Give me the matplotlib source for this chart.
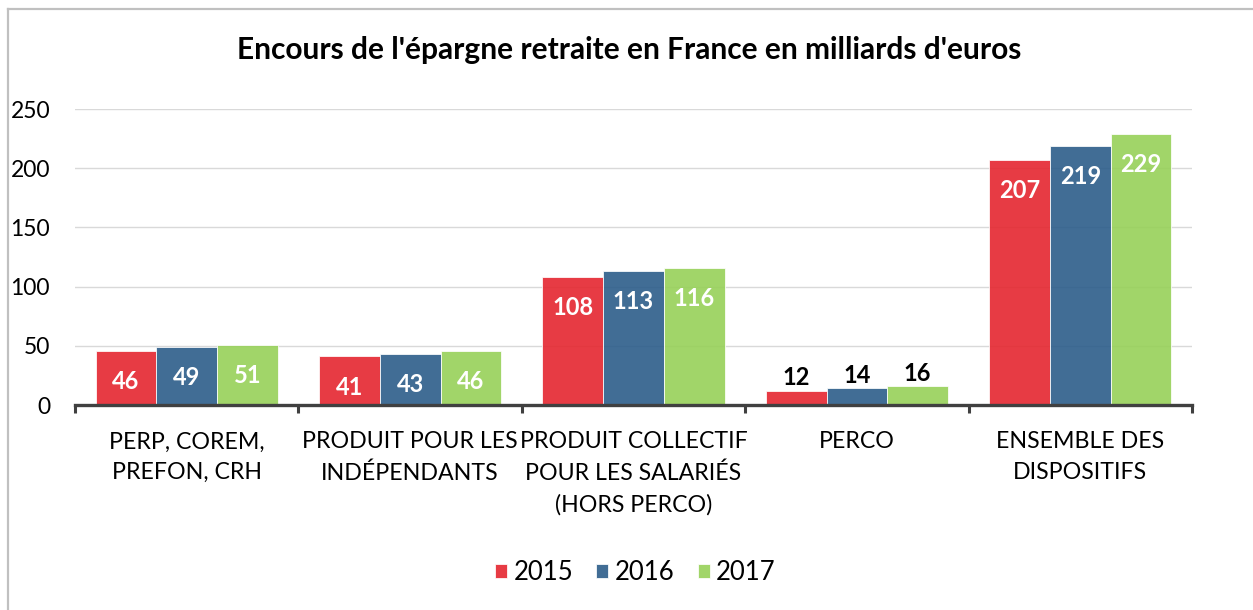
import numpy as np
import matplotlib
matplotlib.use('Agg')
import matplotlib.pyplot as plt
from matplotlib.lines import Line2D

plt.rcParams['font.family'] = ['Lato', 'DejaVu Sans']

categories = ['PERP, COREM,\nPREFON, CRH',
              'PRODUIT POUR LES\nINDÉPENDANTS',
              'PRODUIT COLLECTIF\nPOUR LES SALARIÉS\n(HORS PERCO)',
              'PERCO',
              'ENSEMBLE DES\nDISPOSITIFS']
years = ['2015', '2016', '2017']
v2015 = [46, 41, 108, 12, 207]
v2016 = [49, 43, 113, 14, 219]
v2017 = [51, 46, 116, 16, 229]
yticks = [0, 50, 100, 150, 200, 250]

colors = ['#e5262f', '#2c5d8a', '#97d159']

fig = plt.figure(figsize=(12.53, 6.10), dpi=100)
ax = fig.add_axes([0.0599, 0.336, 0.8914, 0.4853])

x = np.arange(len(categories))
w = 0.272
series = [v2015, v2016, v2017]
for i, (vals, c, yr) in enumerate(zip(series, colors, years)):
    bars = ax.bar(x + (i - 1) * w, vals, w, color=c, alpha=0.9,
                  edgecolor='white', linewidth=0.6, label=yr, zorder=3)
    for b, v in zip(bars, vals):
        cx = b.get_x() + b.get_width() / 2
        if v < 30:
            # small bars: label sits above the bar
            ax.annotate(str(v), (cx, v), xytext=(0, 1), textcoords='offset points',
                        ha='center', va='bottom', fontsize=17, fontweight='bold',
                        color='black', zorder=5)
        else:
            ax.annotate(str(v), (cx, v), xytext=(0, -22), textcoords='offset points',
                        ha='center', va='center', fontsize=17, fontweight='bold',
                        color='white', zorder=5)

ax.set_xlim(-0.5, len(categories) - 0.5)
ax.set_ylim(0, 250)
ax.set_yticks(yticks)
ax.set_yticklabels([str(t) for t in yticks], fontsize=16.5)
ax.tick_params(axis='y', length=0, pad=18)
ax.yaxis.grid(True, color='#d9d9d9', linewidth=1.0, zorder=0)
ax.set_axisbelow(True)

# category boundaries as major ticks, labels at centers as minor ticks
ax.set_xticks(np.arange(len(categories) + 1) - 0.5)
ax.set_xticklabels([])
ax.set_xticks(x, minor=True)
ax.set_xticklabels(categories, minor=True, fontsize=16.7, linespacing=1.58)
ax.tick_params(axis='x', which='major', direction='out', length=6, width=2.2, color='#404040')
ax.tick_params(axis='x', which='minor', length=0, pad=19)

for s in ['top', 'right', 'left']:
    ax.spines[s].set_visible(False)
ax.spines['bottom'].set_color('#404040')
ax.spines['bottom'].set_linewidth(2.4)
ax.spines['bottom'].set_zorder(4)

fig.text(0.502, 0.918, "Encours de l'épargne retraite en France en milliards d'euros",
         ha='center', va='center', fontsize=21.5, fontweight='bold')

fig.legend(loc='center', bbox_to_anchor=(0.507, 0.061), ncol=3, frameon=False,
           fontsize=18.5, handlelength=0.47, handleheight=0.47, handletextpad=0.25,
           columnspacing=0.9)

# chart frame (left and top edges visible)
fig.add_artist(Line2D([7.5 / 1253, 7.5 / 1253], [0, 1 - 9 / 610], color='#c0c0c0', linewidth=1.6))
fig.add_artist(Line2D([7.5 / 1253, 1], [1 - 9 / 610, 1 - 9 / 610], color='#c0c0c0', linewidth=1.6))

fig.savefig('out.png', dpi=100)
